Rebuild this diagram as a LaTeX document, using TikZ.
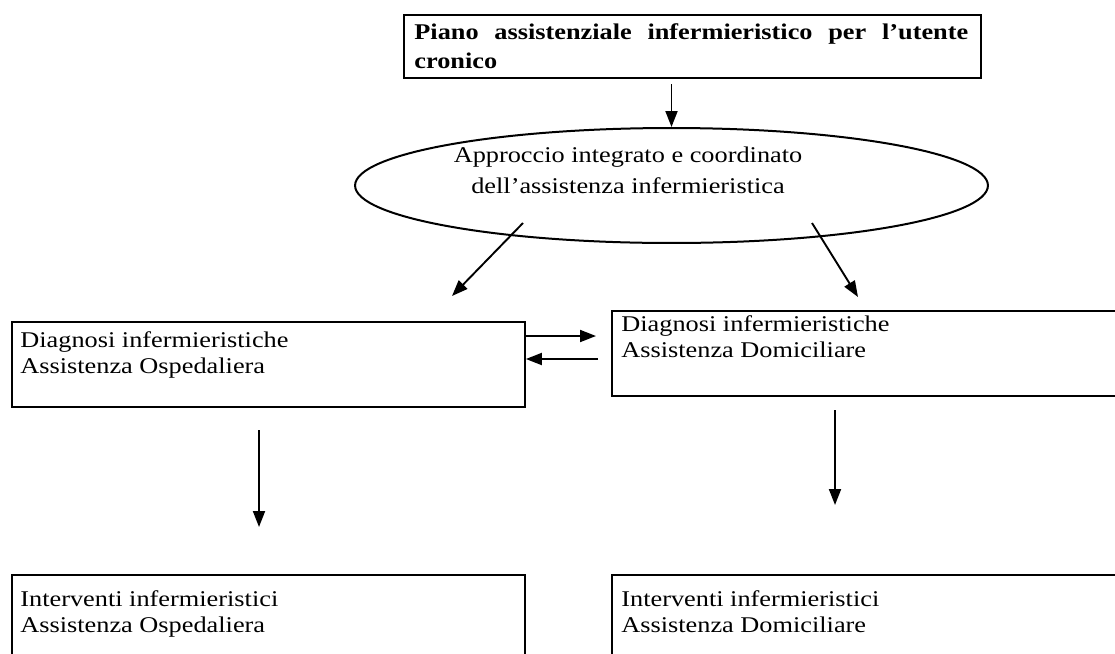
\documentclass[tikz,border=0pt]{standalone}
\usepackage{fontspec}
\setmainfont{Liberation Serif}[FakeStretch=1.17]
\usetikzlibrary{arrows.meta,shapes.geometric}

\begin{document}
\begin{tikzpicture}[x=0.02cm,y=-0.02cm,font=\fontsize{12.8pt}{14.8pt}\selectfont,
  box/.style={draw,line width=0.04cm,anchor=north west,inner sep=0pt,minimum width=10.26cm,minimum height=1.71cm},
  testo/.style={anchor=north west,inner sep=0pt,align=left},
  freccia/.style={line width=0.038cm,-{Triangle[length=0.32cm,width=0.24cm]}}]
 \useasboundingbox (0,0) rectangle (1115,653);
 % titolo
 \node[box,minimum width=11.54cm,minimum height=1.26cm] (titolo) at (403,14) {};
 \node[testo,text width=11.08cm,align=justify,font=\bfseries\fontsize{12.8pt}{16.5pt}\selectfont] (titoloTesto) at ([shift={(11,9)}]titolo.north west) {Piano assistenziale infermieristico per l’utente cronico};
 % ellisse
 \node[draw,ellipse,line width=0.04cm,minimum width=12.66cm,minimum height=2.3cm,inner sep=0pt] (approccio) at (671.5,185.5) {};
 \node[anchor=north,inner sep=0pt,align=center,font=\fontsize{12.8pt}{17.6pt}\selectfont] (approccioTesto) at (628,147) {Approccio integrato e coordinato\\dell’assistenza infermieristica};
 % diagnosi
 \node[box] (diagOsp) at (11,321) {};
 \node[testo] (diagOspTesto) at ([shift={(9,10)}]diagOsp.north west) {Diagnosi infermieristiche\\Assistenza Ospedaliera};
 \node[box] (diagDom) at (611,310) {};
 \node[testo] (diagDomTesto) at ([shift={(10,5)}]diagDom.north west) {Diagnosi infermieristiche\\Assistenza Domiciliare};
 % interventi
 \node[box,minimum height=1.9cm] (intOsp) at (11,574) {};
 \node[testo] (intOspTesto) at ([shift={(9,16)}]intOsp.north west) {Interventi infermieristici\\Assistenza Ospedaliera};
 \node[box,minimum height=1.9cm] (intDom) at (611,574) {};
 \node[testo] (intDomTesto) at ([shift={(10,16)}]intDom.north west) {Interventi infermieristici\\Assistenza Domiciliare};
 % frecce
 \coordinate (a1) at (671.5,84);
 \coordinate (d1) at (523,223);
 \coordinate (d2) at (452,296);
 \coordinate (d3) at (812,223);
 \coordinate (d4) at (858,297);
 \coordinate (h1) at (596,336);
 \coordinate (h2) at (598,359);
 \coordinate (v1) at (259,430);
 \coordinate (v2) at (259,527);
 \coordinate (v3) at (835,410);
 \coordinate (v4) at (835,505);
 \draw[freccia] (a1) -- (approccio.north);
 \draw[freccia] (d1) -- (d2);
 \draw[freccia] (d3) -- (d4);
 \draw[freccia] (diagOsp.east |- h1) -- (h1);
 \draw[freccia] (h2) -- (diagOsp.east |- h2);
 \draw[freccia] (v1) -- (v2);
 \draw[freccia] (v3) -- (v4);
\end{tikzpicture}
\end{document}
